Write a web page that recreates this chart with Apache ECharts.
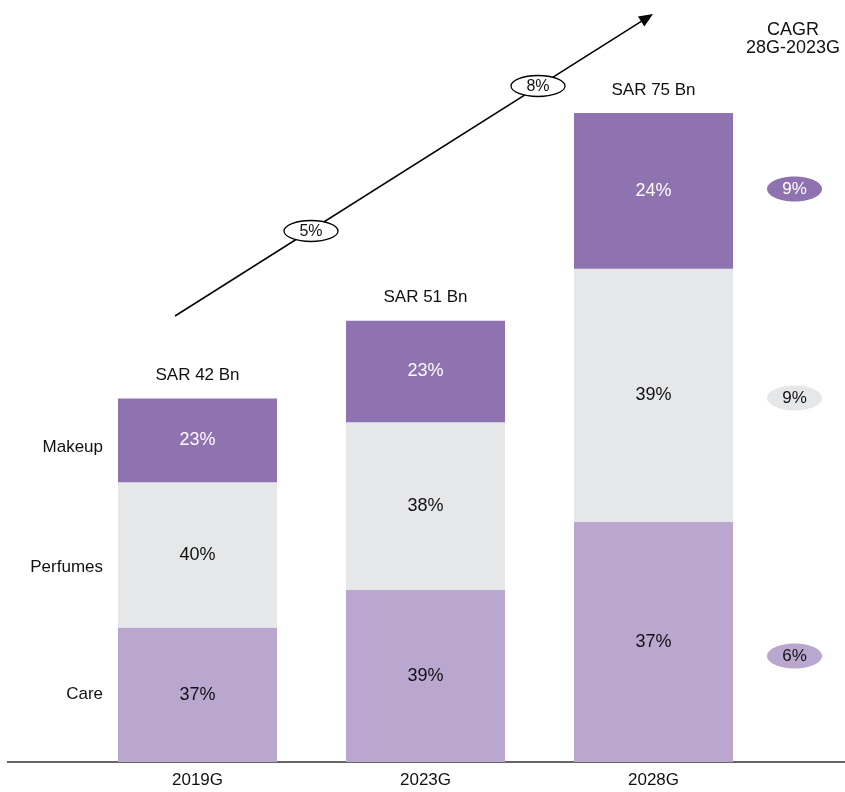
<!DOCTYPE html>
<html>
<head>
<meta charset="utf-8">
<script src="https://cdn.jsdelivr.net/npm/echarts@6/dist/echarts.min.js"></script>
<style>
  html, body { margin: 0; padding: 0; background: #fff; }
  #chart { width: 845px; height: 792px; }
</style>
</head>
<body>
<div id="chart"></div>
<script>
// Market size by segment, SAR billions
const years = ['2019G', '2023G', '2028G'];
const totals = [42, 51, 75];
const careShare = [37, 39, 37];
const perfumesShare = [40, 38, 39];
const makeupShare = [23, 23, 24];
const segmentNames = ['Makeup', 'Perfumes', 'Care'];
const cagrSegments = [9, 9, 6];            // Makeup, Perfumes, Care (2023G-2028G)
const cagrTotal = [5, 8];                   // 2019G-2023G, 2023G-2028G

const COLORS = { makeup: '#8f72b0', perfumes: '#e6e7e9', care: '#b9a7cf' };
const FONT = '"Liberation Sans", Arial, Helvetica, sans-serif';
const TEXT = '#111111';

// absolute segment values = total x share
const part = (shares) => shares.map((s, i) => +(totals[i] * s / 100).toFixed(3));

const chart = echarts.init(document.getElementById('chart'));

function segSeries(name, shares, color, labelColor) {
  return {
    name, type: 'bar', stack: 'total', barWidth: 159,
    data: part(shares).map((v, i) => ({ value: v, share: shares[i] })),
    itemStyle: { color },
    label: {
      show: true, position: 'inside', color: labelColor,
      fontFamily: FONT, fontSize: 18,
      formatter: (p) => p.data.share + '%'
    },
    emphasis: { disabled: true }, animation: false
  };
}

const option = {
  animation: false,
  grid: { left: 83.5, right: 77.5, top: 113, bottom: 30 },
  xAxis: {
    type: 'category', data: years,
    axisLine: { show: false }, axisTick: { show: false },
    axisLabel: { color: TEXT, fontFamily: FONT, fontSize: 17, margin: 10 }
  },
  yAxis: { type: 'value', min: 0, max: 75, show: false, splitLine: { show: false } },
  series: [
    segSeries('Care', careShare, COLORS.care, TEXT),
    segSeries('Perfumes', perfumesShare, COLORS.perfumes, TEXT),
    segSeries('Makeup', makeupShare, COLORS.makeup, '#ffffff'),
    {
      name: 'Total', type: 'scatter', data: totals, symbolSize: 1,
      itemStyle: { color: 'rgba(0,0,0,0)', opacity: 1 },
      label: {
        show: true, position: 'top', distance: 14, color: TEXT,
        fontFamily: FONT, fontSize: 17, opacity: 1,
        formatter: (p) => 'SAR ' + p.value + ' Bn'
      },
      emphasis: { disabled: true }, silent: true
    }
  ]
};
chart.setOption(option);

// Annotations: baseline, segment names, growth arrow and CAGR badges
const graphics = [];
graphics.push({
  type: 'line', shape: { x1: 7, y1: 762, x2: 845, y2: 762 },
  style: { stroke: '#666666', lineWidth: 2 }, silent: true
});

const nameY = [447, 567, 694];
segmentNames.forEach((n, i) => {
  graphics.push({
    type: 'text', x: 103, y: nameY[i],
    style: { text: n, fill: TEXT, font: '17px ' + FONT, textAlign: 'right', textVerticalAlign: 'middle' }
  });
});

// growth arrow
const a0 = [175, 316], a1 = [653, 14];
const dx = a1[0] - a0[0], dy = a1[1] - a0[1];
const len = Math.hypot(dx, dy), ux = dx / len, uy = dy / len;
const headL = 14, headW = 6;
const bx = a1[0] - ux * headL, by = a1[1] - uy * headL;
graphics.push({
  type: 'line', shape: { x1: a0[0], y1: a0[1], x2: bx + ux * 2, y2: by + uy * 2 },
  style: { stroke: '#000', lineWidth: 1.5 }, silent: true
});
graphics.push({
  type: 'polygon',
  shape: { points: [a1, [bx - uy * headW, by + ux * headW], [bx + uy * headW, by - ux * headW]] },
  style: { fill: '#000' }, silent: true
});

// total CAGR ovals on the arrow
const ovalPos = [[311, 231], [538, 86]];
cagrTotal.forEach((v, i) => {
  const [cx, cy] = ovalPos[i];
  graphics.push({
    type: 'ellipse', shape: { cx, cy, rx: 27, ry: 10.5 },
    style: { fill: '#fff', stroke: '#000', lineWidth: 1.3 }, z: 10
  });
  graphics.push({
    type: 'text', x: cx, y: cy + 0.5, z: 11,
    style: { text: v + '%', fill: TEXT, font: '16px ' + FONT, textAlign: 'center', textVerticalAlign: 'middle' }
  });
});

// CAGR header
graphics.push({
  type: 'text', x: 793, y: 39,
  style: {
    text: 'CAGR\n28G-2023G', fill: TEXT, font: '18px ' + FONT, lineHeight: 18,
    textAlign: 'center', textVerticalAlign: 'middle'
  }
});

// segment CAGR pills
const pillY = [189, 398, 656];
const pillFill = [COLORS.makeup, COLORS.perfumes, COLORS.care];
const pillText = ['#ffffff', TEXT, TEXT];
cagrSegments.forEach((v, i) => {
  graphics.push({
    type: 'ellipse', shape: { cx: 794.5, cy: pillY[i], rx: 27.5, ry: 12.5 },
    style: { fill: pillFill[i] }
  });
  graphics.push({
    type: 'text', x: 794.5, y: pillY[i] + 0.5,
    style: { text: v + '%', fill: pillText[i], font: '17px ' + FONT, textAlign: 'center', textVerticalAlign: 'middle' }
  });
});

chart.setOption({ graphic: { elements: graphics } });
</script>
</body>
</html>
